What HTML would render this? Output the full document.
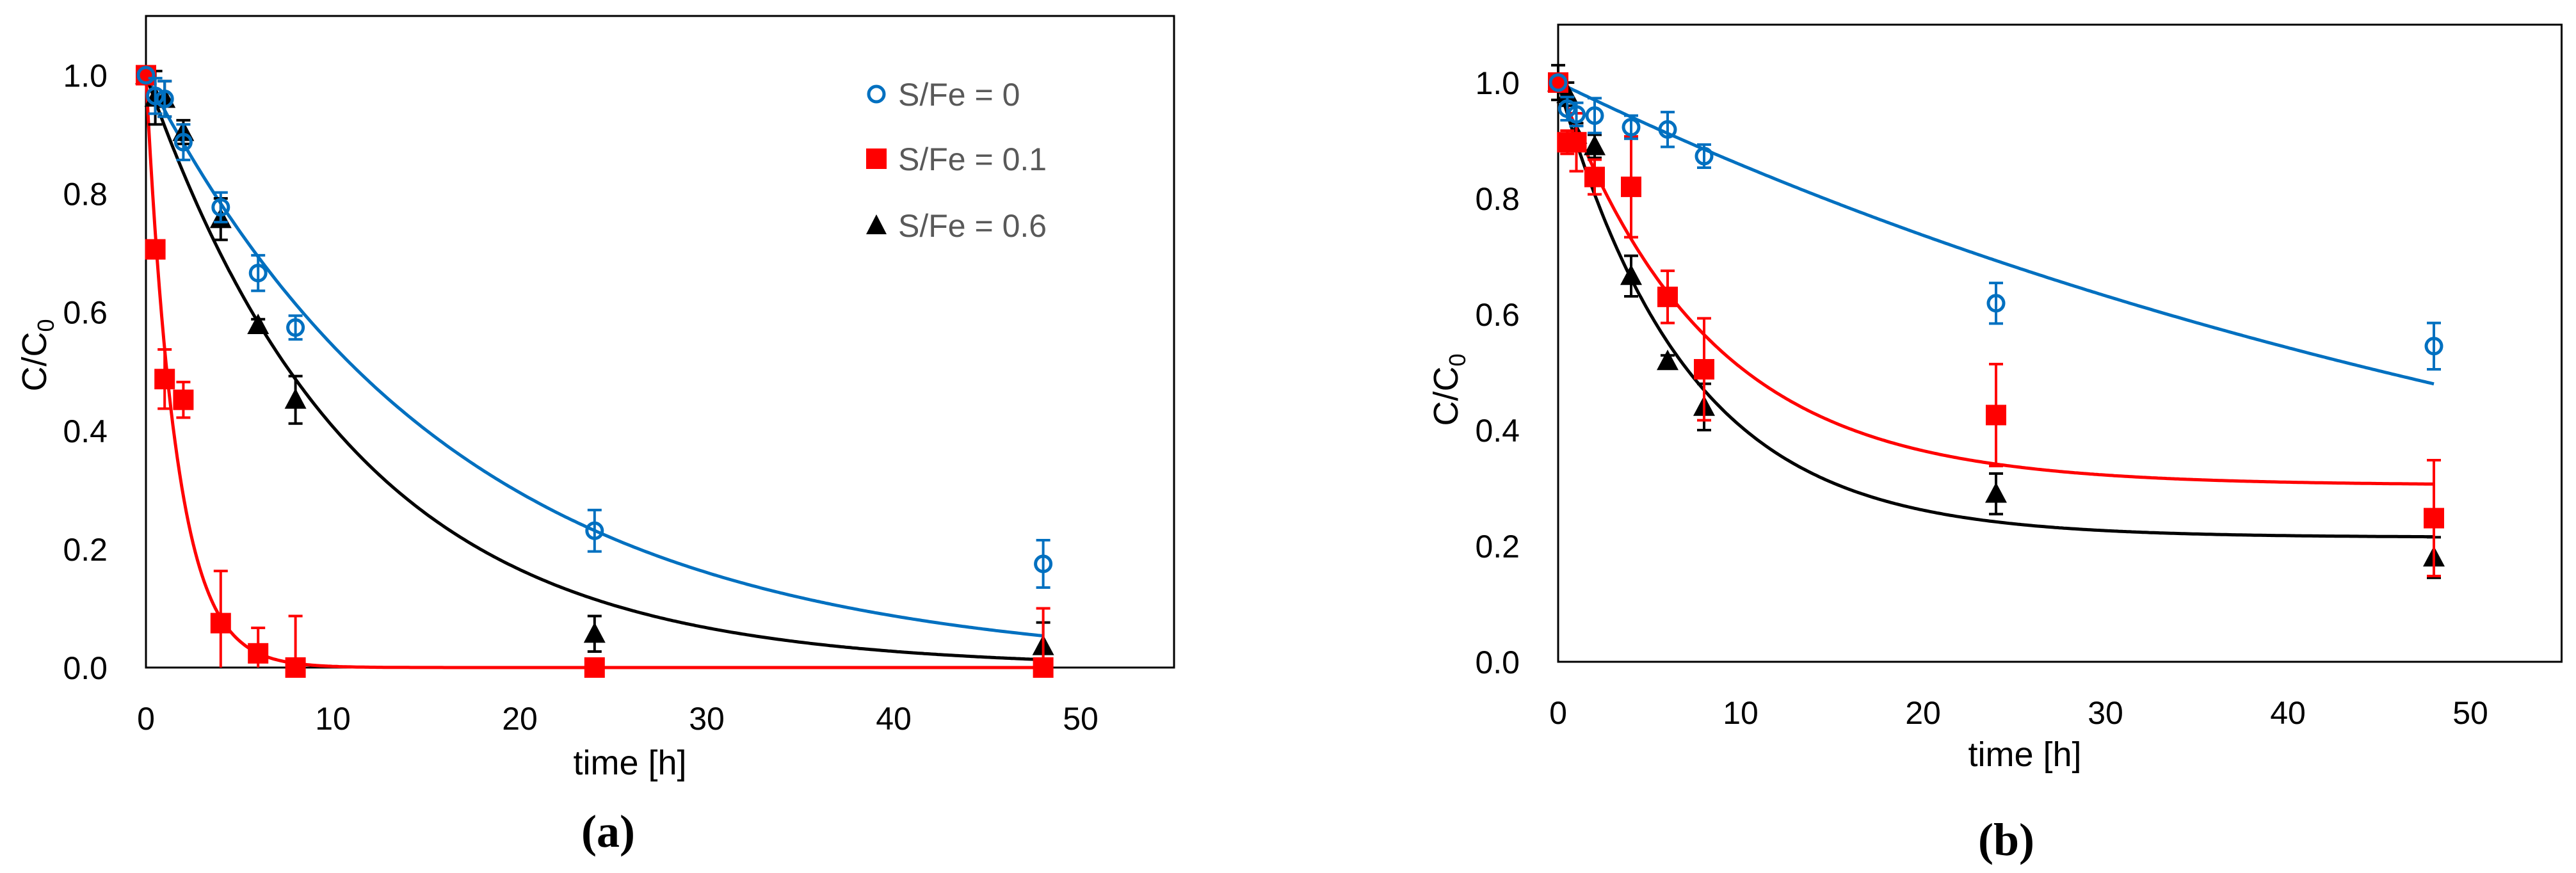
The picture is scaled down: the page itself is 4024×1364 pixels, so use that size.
<!DOCTYPE html>
<html><head><meta charset="utf-8"><style>
html,body{margin:0;padding:0;background:#fff;}
svg{display:block;}
text{font-family:"Liberation Sans",sans-serif;}
</style></head><body>
<svg id="fig" width="4024" height="1364" viewBox="0 0 4024 1364" xmlns="http://www.w3.org/2000/svg">
<rect x="0" y="0" width="4024" height="1364" fill="#fff"/>
<g id="panelA"></g>
<g id="panelB"></g>
<g>
  <circle cx="1369" cy="147" r="12" fill="#fff" stroke="#0070C0" stroke-width="5"/>
  <text x="1403" y="165" font-size="50" fill="#595959">S/Fe = 0</text>
  <rect x="1353" y="232" width="32" height="32" fill="#FF0000"/>
  <text x="1403" y="266" font-size="50" fill="#595959">S/Fe = 0.1</text>
  <polygon points="1369,335 1385,366 1353,366" fill="#000"/>
  <text x="1403" y="370" font-size="50" fill="#595959">S/Fe = 0.6</text>
</g>
<text x="950" y="1323" font-size="72" font-weight="bold" text-anchor="middle" style="font-family:'Liberation Serif',serif">(a)</text>
<text x="3134" y="1336" font-size="72" font-weight="bold" text-anchor="middle" style="font-family:'Liberation Serif',serif">(b)</text>
</svg>
<script>
// ---- data ----
const seriesNames = ["S/Fe = 0", "S/Fe = 0.1", "S/Fe = 0.6"];
const timesA = [0, 0.5, 1, 2, 4, 6, 8, 24, 48];
const blueA = [1.0, 0.965, 0.96, 0.887, 0.777, 0.666, 0.574, 0.231, 0.175];
const blueErrA = [0, 0.03, 0.03, 0.03, 0.025, 0.03, 0.02, 0.035, 0.04];
const redA = [1.0, 0.706, 0.487, 0.452, 0.075, 0.024, 0.0, 0.0, 0.0];
const redErrA = [0, 0, 0.05, 0.03, 0.088, 0.043, 0.087, 0, 0.1];
const blackA = [1.0, 0.962, 0.96, 0.904, 0.757, 0.578, 0.452, 0.057, 0.036];
const blackErrA = [0, 0.045, 0.03, 0.02, 0.035, 0.01, 0.04, 0.03, 0.04];
const timesB = [0, 0.5, 1, 2, 4, 6, 8, 24, 48];
const blueB = [1.0, 0.955, 0.945, 0.943, 0.923, 0.919, 0.873, 0.619, 0.545];
const blueErrB = [0, 0.02, 0.02, 0.03, 0.02, 0.03, 0.02, 0.035, 0.04];
const redB = [1.0, 0.897, 0.897, 0.837, 0.82, 0.63, 0.505, 0.426, 0.248];
const redErrB = [0, 0.02, 0.05, 0.03, 0.087, 0.045, 0.088, 0.088, 0.1];
const blackB = [1.0, 0.98, 0.91, 0.89, 0.666, 0.519, 0.44, 0.29, 0.18];
const blackErrB = [0.03, 0.02, 0.02, 0.02, 0.035, 0.01, 0.04, 0.035, 0.035];
// kinetic-fit parameters (rate k, plateau) for blue, red, black
const fitKA = [0.061, 0.62, 0.09];
const fitPlateauA = [0, 0, 0];
const fitKB = [0.0153, 0.123, 0.141];
const fitPlateauB = [0, 0.305, 0.215];
const fitEnd = 48;
const xTicks = [0, 10, 20, 30, 40, 50];
const yTicks = [0, 0.2, 0.4, 0.6, 0.8, 1.0];
const yTickLabels = ["0.0", "0.2", "0.4", "0.6", "0.8", "1.0"];

const NS = "http://www.w3.org/2000/svg";
const colors = ["#0070C0", "#FF0000", "#000000"];
function mk(tag, attrs, parent){const e=document.createElementNS(NS,tag);for(const k in attrs)e.setAttribute(k,attrs[k]);parent.appendChild(e);return e;}

function drawPanel(g, cfg){
  const X = t => cfg.x0 + t * cfg.xs;
  const Y = v => cfg.y0 - v * cfg.ys;
  // frame
  const fr = mk("rect",{x:X(0),y:Y(1.1),width:X(55)-X(0),height:Y(0)-Y(1.1),fill:"none",stroke:"#000","stroke-width":3},g);
  
  
  xTicks.forEach(t=>{
    const tx = mk("text",{x:X(t),y:Y(0)+97,"font-size":50,"text-anchor":"middle",fill:"#000"},g);
    tx.textContent = String(t);
    
    
  });
  yTicks.forEach((v,i)=>{
    const ty = mk("text",{x:X(0)-60,y:Y(v)+18,"font-size":50,"text-anchor":"end",fill:"#000"},g);
    ty.textContent = yTickLabels[i];
    
    
  });
  // axis titles
  const xt = mk("text",{x:cfg.xtx,y:cfg.xty,"font-size":54,"text-anchor":"middle",fill:"#000"},g);
  xt.textContent = "time [h]";
  
  
  const yt = mk("text",{x:0,y:0,"font-size":54,"text-anchor":"middle",fill:"#000",transform:`translate(${cfg.ytx},${cfg.yty}) rotate(-90)`},g);
  yt.innerHTML = 'C/C<tspan font-size="36" dy="12">0</tspan>';
  
  
  // fit curves
  for(let s=0;s<3;s++){
    let d="";
    for(let i=0;i<=400;i++){
      const t = fitEnd*i/400;
      const v = cfg.plat[s] + (1-cfg.plat[s])*Math.exp(-cfg.k[s]*t);
      d += (i?"L":"M")+X(t).toFixed(1)+","+Y(v).toFixed(1);
    }
    const p = mk("path",{d:d,fill:"none",stroke:colors[s],"stroke-width":5},g);
    
    
  }
  // error bars + markers (order: black, red, blue drawn so blue on top)
  const order=[2,1,0];
  order.forEach(s=>{
    const vals=cfg.vals[s], errs=cfg.errs[s];
    cfg.times.forEach((t,i)=>{
      const e=errs[i]; if(e<=0) return;
      const lo=Math.max(0,vals[i]-e), hi=vals[i]+e;
      const eb=mk("path",{d:`M${X(t)},${Y(lo)}L${X(t)},${Y(hi)}M${X(t)-11},${Y(hi)}L${X(t)+11},${Y(hi)}`+(vals[i]-e>=0?`M${X(t)-11},${Y(lo)}L${X(t)+11},${Y(lo)}`:""),stroke:colors[s],"stroke-width":4,fill:"none"},g);
      
      
    });
    cfg.times.forEach((t,i)=>{
      const cx=X(t), cy=Y(vals[i]);
      let m;
      if(s===0) m=mk("circle",{cx:cx,cy:cy,r:12,fill:"none",stroke:colors[0],"stroke-width":5},g);
      else if(s===1) m=mk("rect",{x:cx-16,y:cy-16,width:32,height:32,fill:colors[1]},g);
      else m=mk("polygon",{points:`${cx},${cy-18} ${cx+17},${cy+14} ${cx-17},${cy+14}`,fill:"#000"},g);
      
      
    });
  });
}

drawPanel(document.getElementById("panelA"),{x0:228,xs:29.2,y0:1043,ys:925.5,times:timesA,
  vals:[blueA,redA,blackA],errs:[blueErrA,redErrA,blackErrA],k:fitKA,plat:fitPlateauA,
  xtx:984,xty:1210,ytx:72,yty:555});
drawPanel(document.getElementById("panelB"),{x0:2434,xs:28.5,y0:1034,ys:905,times:timesB,
  vals:[blueB,redB,blackB],errs:[blueErrB,redErrB,blackErrB],k:fitKB,plat:fitPlateauB,
  xtx:3163,xty:1197,ytx:2277,yty:609});
</script>
</body></html>
